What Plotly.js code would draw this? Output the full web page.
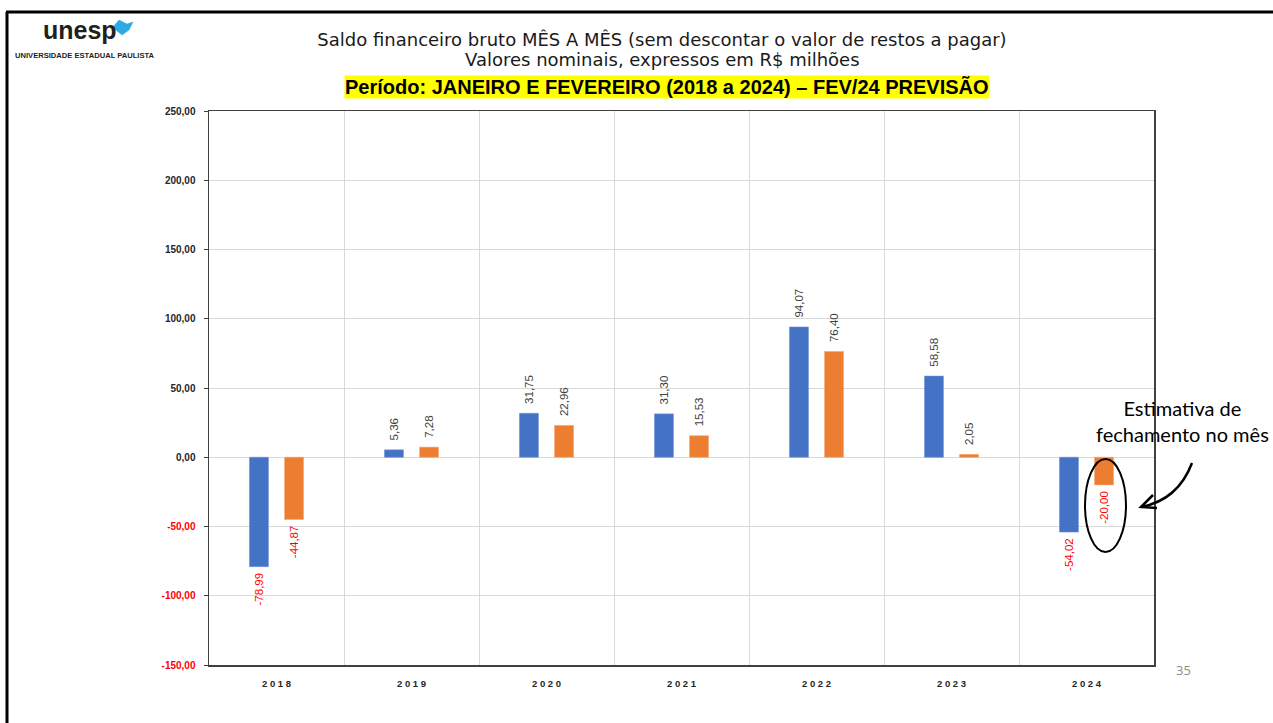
<!DOCTYPE html>
<html>
<head>
<meta charset="utf-8">
<script src="https://cdn.plot.ly/plotly-3.0.1.min.js"></script>
<style>html,body{margin:0;padding:0;background:#fff;}#chart{width:1273px;height:723px;}</style>
</head>
<body>
<div id="chart"></div>
<script>
// ---- data ----
const years = ["2018", "2019", "2020", "2021", "2022", "2023", "2024"];
const janeiro = [-78.99, 5.36, 31.75, 31.30, 94.07, 58.58, -54.02];
const fevereiro = [-44.87, 7.28, 22.96, 15.53, 76.40, 2.05, -20.00];
const yTickVals = [-150, -100, -50, 0, 50, 100, 150, 200, 250];
const yTickText = ["-150,00", "-100,00", "-50,00", "0,00", "50,00", "100,00", "150,00", "200,00", "250,00"];

// ---- layout helpers ----
const W = 1273, H = 723, ML = 209, MR = 119, MT = 111, MB = 58;
const PW = W - ML - MR, PH = H - MT - MB;
const px2x = p => (p - ML) / PW;
const px2y = p => (H - MB - p) / PH;

const NB = "\u00a0";
const labelColor = v => v < 0 ? "#FF0000" : "#404040";
const labelTemplate = v => v < 0 ? "%{y:.2f}" + NB : NB + NB + "%{y:.2f}";

const common = {
  type: "bar",
  x: years,
  textposition: "outside",
  textangle: -90,
  constraintext: "none",
  cliponaxis: false,
  showlegend: false,
  hoverinfo: "x+y"
};

const traces = [
  Object.assign({}, common, {
    name: "Janeiro",
    y: janeiro,
    texttemplate: janeiro.map(labelTemplate),
    marker: { color: "#4472C4", line: { color: "#6f93d6", width: 0.6 } },
    textfont: { family: "Liberation Sans, Arial, sans-serif", size: 11.5, color: janeiro.map(labelColor) }
  }),
  Object.assign({}, common, {
    name: "Fevereiro",
    y: fevereiro,
    texttemplate: fevereiro.map(labelTemplate),
    marker: { color: "#ED7D31", line: { color: "#f4a572", width: 0.6 } },
    textfont: { family: "Liberation Sans, Arial, sans-serif", size: 11.5, color: fevereiro.map(labelColor) }
  })
];

const yTickLabels = yTickVals.map((v, i) =>
  v < 0 ? '<span style="color:#FF0000">' + yTickText[i] + '</span>' : yTickText[i]);

const layout = {
  width: W, height: H,
  margin: { l: ML, r: MR, t: MT, b: MB, autoexpand: false },
  paper_bgcolor: "#ffffff",
  plot_bgcolor: "#ffffff",
  separators: ",.",
  barmode: "group",
  bargap: 0.48,
  bargroupgap: 0.46,
  font: { family: "Liberation Sans, Arial, sans-serif", color: "#000" },
  title: {
    text: "Saldo financeiro bruto MÊS A MÊS (sem descontar o valor de restos a pagar)",
    x: 662 / W, xanchor: "center", xref: "container",
    y: 1 - 40 / H, yanchor: "middle", yref: "container",
    font: { family: "DejaVu Sans, sans-serif", size: 18, color: "#1a1a1a" }
  },
  xaxis: {
    type: "category",
    tickson: "boundaries",
    ticks: "",
    tickvals: years,
    ticktext: years.map(y => y.split("").join(" ")),
    tickfont: { family: "Liberation Sans, Arial, sans-serif", size: 9.5, color: "#262626", weight: "bold" },
    ticklabelstandoff: 9,
    showgrid: true, gridcolor: "#d9d9d9", gridwidth: 1,
    showline: true, linecolor: "#404040", linewidth: 1.5, mirror: true,
    fixedrange: true
  },
  yaxis: {
    range: [-150, 250],
    tickvals: yTickVals,
    ticktext: yTickLabels,
    ticks: "outside", ticklen: 4, tickcolor: "#404040", tickwidth: 1,
    ticklabelstandoff: 6,
    tickfont: { family: "Liberation Sans, Arial, sans-serif", size: 10, color: "#262626", weight: "bold" },
    showgrid: true, gridcolor: "#d9d9d9", gridwidth: 1,
    zeroline: false,
    showline: true, linecolor: "#404040", linewidth: 1.5, mirror: true,
    fixedrange: true
  },
  annotations: [
    { text: "Valores nominais, expressos em R$ milhões", xref: "paper", yref: "paper",
      x: px2x(662), y: px2y(59), xanchor: "center", yanchor: "middle", showarrow: false,
      font: { family: "DejaVu Sans, sans-serif", size: 18, color: "#1a1a1a" } },
    { text: "<b>Período: JANEIRO E FEVEREIRO (2018 a 2024) – FEV/24 PREVISÃO</b>", xref: "paper", yref: "paper",
      x: px2x(667), y: px2y(87), xanchor: "center", yanchor: "middle", showarrow: false,
      bgcolor: "#FFFF00", borderpad: 0,
      font: { family: "Liberation Sans, Arial, sans-serif", size: 20, color: "#000" } },
    { text: "<b>unesp</b>", xref: "paper", yref: "paper",
      x: px2x(41), y: px2y(30), xanchor: "left", yanchor: "middle", showarrow: false,
      font: { family: "Liberation Sans, Arial, sans-serif", size: 25, color: "#231f20" } },
    { text: "<b>UNIVERSIDADE ESTADUAL PAULISTA</b>", xref: "paper", yref: "paper",
      x: px2x(13), y: px2y(56), xanchor: "left", yanchor: "middle", showarrow: false,
      font: { family: "Liberation Sans, Arial, sans-serif", size: 7.6, color: "#231f20" } },
    { text: "Estimativa de<br>fechamento no mês", xref: "paper", yref: "paper",
      x: px2x(1182), y: px2y(421), xanchor: "center", yanchor: "middle", showarrow: false,
      font: { family: "Lato, sans-serif", size: 20, color: "#000" } },
    { text: "35", xref: "paper", yref: "paper",
      x: px2x(1183), y: px2y(670), xanchor: "center", yanchor: "middle", showarrow: false,
      font: { family: "Open Sans, sans-serif", size: 13, color: "#8c8c8c" } }
  ],
  shapes: [
    // slide border
    { type: "line", xref: "paper", yref: "paper", x0: px2x(7), y0: px2y(12), x1: px2x(7), y1: px2y(723),
      line: { color: "#000", width: 3 } },
    { type: "line", xref: "paper", yref: "paper", x0: px2x(6), y0: px2y(12), x1: px2x(1273), y1: px2y(12),
      line: { color: "#000", width: 3 } },
    // logo mark
    { type: "path", xref: "paper", yref: "paper",
      path: "M " + px2x(113) + "," + px2y(27) + " L " + px2x(119) + "," + px2y(20) + " L " + px2x(127) + "," + px2y(24) +
            " L " + px2x(133) + "," + px2y(22) + " L " + px2x(129) + "," + px2y(30) + " L " + px2x(122) + "," + px2y(35) +
            " L " + px2x(117) + "," + px2y(31) + " Z",
      fillcolor: "#2fa9e1", line: { color: "#2fa9e1", width: 0.5 } },
    // ellipse around estimate
    { type: "circle", xref: "paper", yref: "paper",
      x0: px2x(1085), x1: px2x(1126), y0: px2y(552), y1: px2y(459),
      line: { color: "#000", width: 2 } },
    // curved arrow
    { type: "path", xref: "paper", yref: "paper",
      path: "M " + px2x(1192) + "," + px2y(463) + " Q " + px2x(1178) + "," + px2y(500) + " " + px2x(1141) + "," + px2y(507),
      line: { color: "#000", width: 2.5 } },
    { type: "path", xref: "paper", yref: "paper",
      path: "M " + px2x(1153) + "," + px2y(495) + " L " + px2x(1141) + "," + px2y(507) + " L " + px2x(1157) + "," + px2y(508),
      line: { color: "#000", width: 2.5 } }
  ]
};

Plotly.newPlot("chart", traces, layout, { displayModeBar: false, staticPlot: true });
</script>
</body>
</html>
